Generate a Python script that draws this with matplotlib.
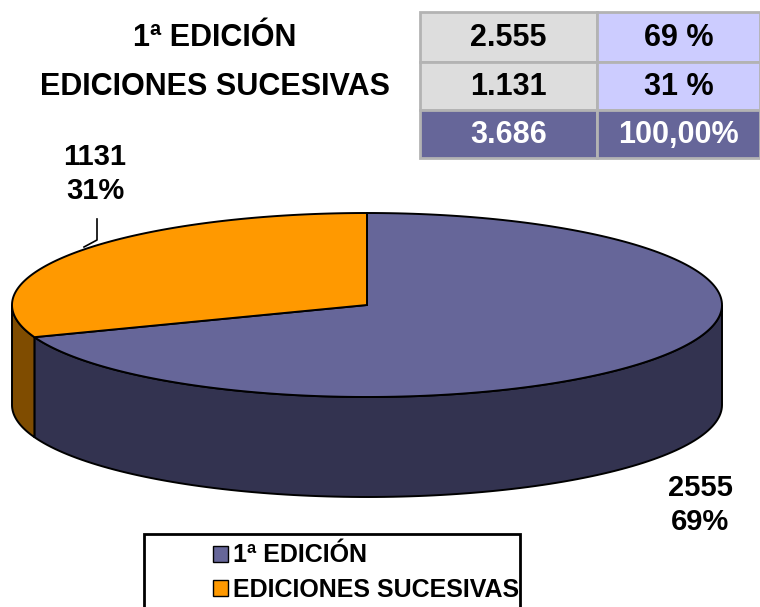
import matplotlib.pyplot as plt
import numpy as np
from matplotlib.patches import Polygon, Rectangle, Patch

plt.rcParams['font.family'] = ['Liberation Sans', 'DejaVu Sans']
plt.rcParams['font.weight'] = 'bold'

# data
categories = ["1ª EDICIÓN", "EDICIONES SUCESIVAS"]
values = [2555, 1131]
top_colors = ["#666699", "#FF9900"]
side_colors = ["#333350", "#7F4C00"]
total_pct_label = "100,00%"

total = sum(values)


def fmt_thousands(v):
    return f"{v:,}".replace(",", ".")


fig = plt.figure(figsize=(7.6, 6.07), dpi=100)
ax = fig.add_axes([0, 0, 1, 1])
ax.set_xlim(0, 760)
ax.set_ylim(607, 0)
ax.axis("off")

# pie geometry (pixels)
cx, cy, rx, ry, depth = 367, 305, 355, 92, 100


def pt(t):
    return cx + rx * np.cos(t), cy - ry * np.sin(t)


# wedges go clockwise from 12 o'clock
angles = []
start = 90.0
for v in values:
    end = start - 360.0 * v / total
    angles.append((start, end))
    start = end

# side walls (only the front half, 180..360 deg)
for (a0, a1), sc in zip(angles, side_colors):
    lo, hi = min(a0, a1), max(a0, a1)
    for shift in (0, 360, -360):
        s0, s1 = max(lo + shift, 180), min(hi + shift, 360)
        if s1 > s0:
            t = np.radians(np.linspace(s0, s1, 120))
            xs, ys = pt(t)
            poly = np.column_stack([np.r_[xs, xs[::-1]], np.r_[ys, ys[::-1] + depth]])
            ax.add_patch(Polygon(poly, closed=True, facecolor=sc,
                                 edgecolor="black", lw=1.4, zorder=2))

# top faces
for (a0, a1), tc in zip(angles, top_colors):
    t = np.radians(np.linspace(a0, a1, 200))
    xs, ys = pt(t)
    poly = np.column_stack([np.r_[cx, xs], np.r_[cy, ys]])
    ax.add_patch(Polygon(poly, closed=True, facecolor=tc,
                         edgecolor="black", lw=1.4, zorder=3))

# data labels
label_pos = [(700, 505), (95, 174)]
for v, (lx, ly) in zip(values, label_pos):
    ax.text(lx, ly, f"{v}\n{round(100 * v / total)}%", ha="center", va="center",
            fontsize=21, fontweight="bold", linespacing=1.3, zorder=5)
ax.plot([97, 97, 84], [219, 240, 247], color="black", lw=1.2, zorder=4)

# table at the top
col_x = [420, 597, 760]
row_y = [12, 62, 110, 158]
rows = []
for v in values:
    rows.append([fmt_thousands(v), f"{round(100 * v / total)} %"])
rows.append([fmt_thousands(total), total_pct_label])
cell_bg = [["#DDDDDD", "#CCCCFF"], ["#DDDDDD", "#CCCCFF"], ["#666699", "#666699"]]
text_col = ["black", "black", "white"]

for r, row in enumerate(rows):
    for c, txt in enumerate(row):
        x0, x1 = col_x[c], col_x[c + 1]
        y0, y1 = row_y[r], row_y[r + 1]
        ax.add_patch(Rectangle((x0, y0), x1 - x0, y1 - y0, facecolor=cell_bg[r][c],
                               edgecolor="#B3B3B3", lw=2, zorder=1))
        ax.text((x0 + x1) / 2, (y0 + y1) / 2 + 1, txt, ha="center", va="center",
                fontsize=22, fontweight="bold", color=text_col[r], zorder=2)

for r, cat in enumerate(categories):
    ax.text(215, (row_y[r] + row_y[r + 1]) / 2 + 1, cat, ha="center", va="center",
            fontsize=22, fontweight="bold")

# legend
ax.add_patch(Rectangle((144, 534), 376, 90, facecolor="white", edgecolor="black",
                       lw=2, zorder=5))
handles = [Patch(facecolor=c, edgecolor="black", lw=1) for c in top_colors]
ax.legend(handles, categories, loc="upper left", bbox_to_anchor=(195 / 760, 1 - 526 / 607),
          frameon=False, prop={"size": 18, "weight": "bold"}, handlelength=0.6,
          handleheight=0.6, handletextpad=0.2, labelspacing=0.42,
          borderpad=0.2).set_zorder(6)

fig.savefig("out.png", dpi=100)
